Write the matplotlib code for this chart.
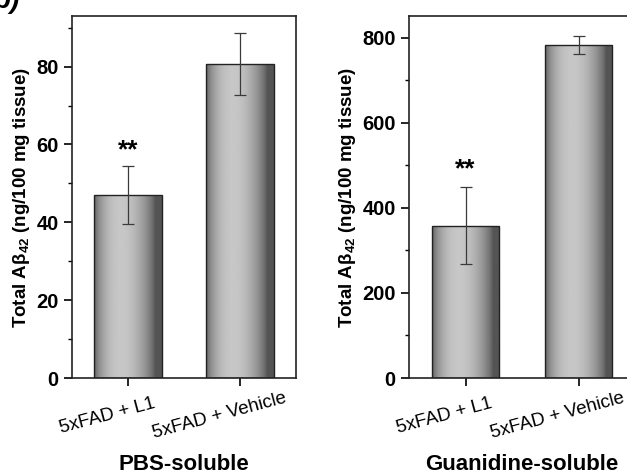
import numpy as np
import matplotlib
matplotlib.use('Agg')
import matplotlib.pyplot as plt
from matplotlib.ticker import MultipleLocator
import matplotlib.transforms as mtransforms

plt.rcParams['font.family'] = ['Liberation Sans', 'DejaVu Sans']

groups = ['5xFAD + L1', '5xFAD + Vehicle']

pbs_vals = [47.0, 80.7]
pbs_err = [7.5, 8.0]

gua_vals = [358, 783]
gua_err = [91, 22]

panels = [
    dict(vals=pbs_vals, err=pbs_err, ylim=(0, 93), major=20, minor=10,
         star_y=58.5, xlabel='PBS-soluble', pos=[72, 16, 224, 362]),
    dict(vals=gua_vals, err=gua_err, ylim=(0, 851), major=200, minor=100,
         star_y=490, xlabel='Guanidine-soluble', pos=[409, 16, 226, 362]),
]

W, H = 627, 475
fig = plt.figure(figsize=(W / 100, H / 100), dpi=100)

# cylinder-like shading across each bar
t = np.linspace(0, 1, 200)
shade = np.sin(np.pi * np.clip(t / 0.9, 0, 1) ** 0.85) ** 0.7
shade = 0.33 + 0.45 * shade
grad = np.tile(shade, (2, 1))

for p in panels:
    x0, y0, w, h = p['pos']
    ax = fig.add_axes([x0 / W, 1 - (y0 + h) / H, w / W, h / H])
    x = np.arange(len(groups))
    bars = ax.bar(x, p['vals'], width=0.6, color='none', edgecolor='#222222',
                  linewidth=1.0, zorder=2)
    for b in bars:
        im = ax.imshow(grad, cmap='gray', vmin=0, vmax=1, aspect='auto',
                       extent=[b.get_x(), b.get_x() + b.get_width(), 0, b.get_height()],
                       zorder=1)
        im.set_clip_path(b)
    ax.errorbar(x, p['vals'], yerr=p['err'], fmt='none', ecolor='#3a3a3a',
                elinewidth=0.9, capsize=4, capthick=0.9, zorder=3)
    ax.text(0, p['star_y'], '**', ha='center', va='center', fontsize=19,
            fontweight='bold')

    ax.set_xlim(-0.5, 1.5)
    ax.set_ylim(*p['ylim'])
    ax.yaxis.set_major_locator(MultipleLocator(p['major']))
    ax.yaxis.set_minor_locator(MultipleLocator(p['minor']))
    ax.set_xticks(x)
    ax.set_xticklabels([])
    trans = mtransforms.blended_transform_factory(ax.transData, ax.transAxes)
    off = mtransforms.ScaledTranslation(-21 / 100, -38 / 100, fig.dpi_scale_trans)
    for xi, g in zip(x, groups):
        ax.text(xi, 0, g, transform=trans + off, ha='center', va='center',
                rotation=15, fontsize=13.5)
    ax.tick_params(axis='both', direction='out', width=1.2, length=6)
    ax.tick_params(axis='y', which='minor', direction='out', width=1.0, length=3)
    for lab in ax.get_yticklabels():
        lab.set_fontweight('bold')
        lab.set_fontsize(14.5)
    for s in ax.spines.values():
        s.set_linewidth(1.2)
        s.set_color('#222222')
    ax.set_ylabel(r'Total A$\mathregular{\beta_{42}}$ (ng/100 mg tissue)',
                  fontsize=13.5, fontweight='bold', labelpad=3)
    xl_off = mtransforms.ScaledTranslation(0, -87 / 100, fig.dpi_scale_trans)
    ax.text(0.5, 0, p['xlabel'], transform=ax.transAxes + xl_off,
            ha='center', va='center', fontsize=16, fontweight='bold')

fig.text(20 / W, 1 - 14 / H, 'b)', ha='right', va='bottom', fontsize=20,
         fontweight='bold', style='italic')

fig.savefig('out.png', dpi=100)
